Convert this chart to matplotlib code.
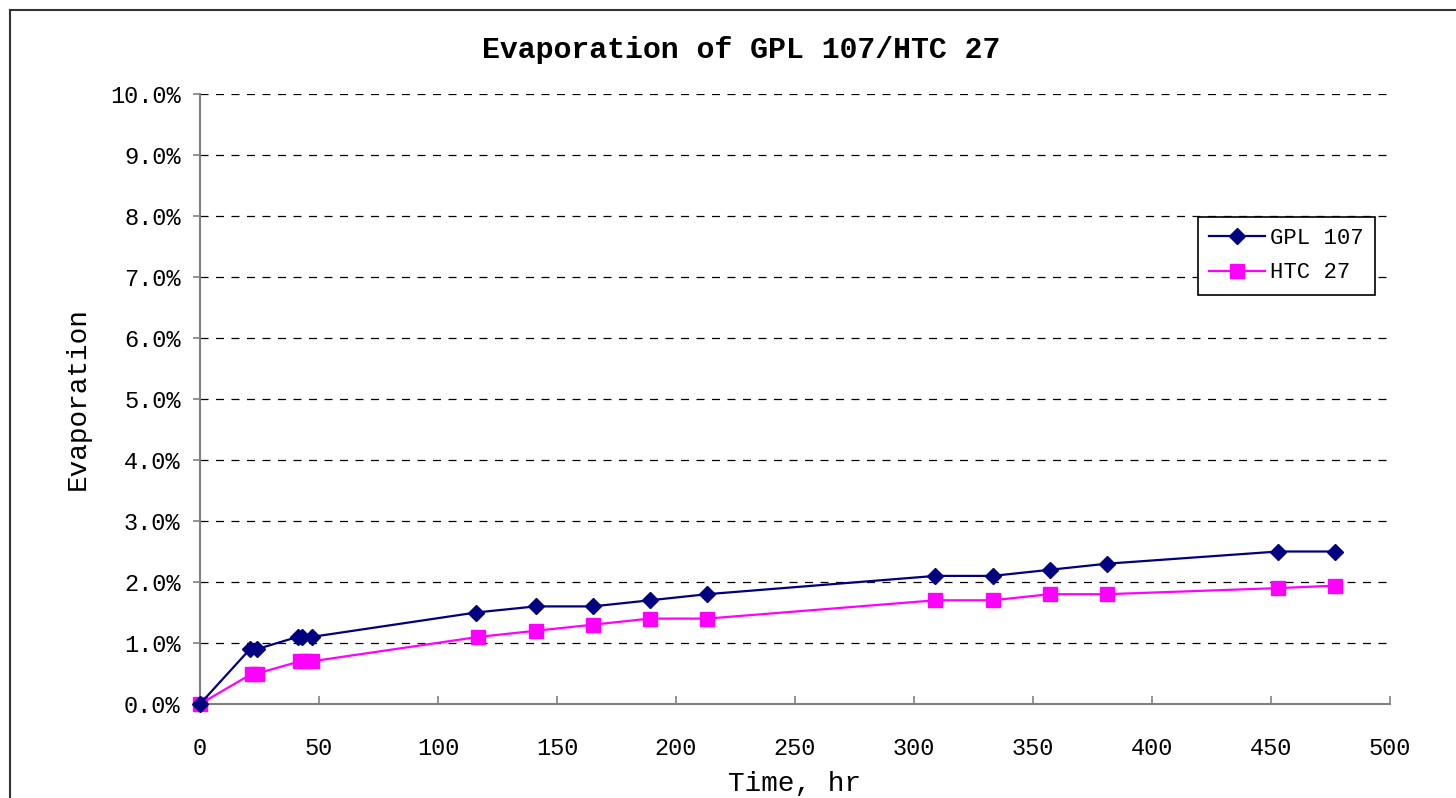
import matplotlib.pyplot as plt
from matplotlib.lines import Line2D
from matplotlib.ticker import FuncFormatter

# hours and evaporation (percent)
hours_gpl = [0, 21, 24, 41, 43, 47, 116, 141, 165, 189, 213, 309, 333, 357, 381, 453, 477]
gpl_107 = [0.0, 0.9, 0.9, 1.1, 1.1, 1.1, 1.5, 1.6, 1.6, 1.7, 1.8, 2.1, 2.1, 2.2, 2.3, 2.5, 2.5]

hours_htc = [0, 22, 24, 42, 44, 47, 117, 141, 165, 189, 213, 309, 333, 357, 381, 453, 477]
htc_27 = [0.0, 0.5, 0.5, 0.7, 0.7, 0.7, 1.1, 1.2, 1.3, 1.4, 1.4, 1.7, 1.7, 1.8, 1.8, 1.9, 1.94]

x_ticks = [0, 50, 100, 150, 200, 250, 300, 350, 400, 450, 500]
y_ticks = [0, 1, 2, 3, 4, 5, 6, 7, 8, 9, 10]

plt.rcParams['font.family'] = ['Liberation Mono', 'DejaVu Sans']

fig = plt.figure(figsize=(14.56, 7.98), dpi=100)
ax = fig.add_axes([200/1456, 1-704/798, 1190/1456, 610/798])

ax.plot(hours_gpl, gpl_107, color="#000080", lw=1.6, marker="D", ms=8,
        label="GPL 107", zorder=4, clip_on=False)
ax.plot(hours_htc, htc_27, color="#FF00FF", lw=1.6, marker="s", ms=10,
        label="HTC 27", zorder=3, clip_on=False)

ax.set_xlim(0, 500)
ax.set_ylim(0, 10)
ax.set_xticks(x_ticks)
ax.set_yticks(y_ticks)
ax.yaxis.set_major_formatter(FuncFormatter(lambda v, p: f"{v:.1f}%"))

ax.grid(axis="y", color="black", linestyle=(0, (6.4, 6)), linewidth=0.9)
ax.set_axisbelow(True)

for s in ["top", "right"]:
    ax.spines[s].set_visible(False)
for s in ["left", "bottom"]:
    ax.spines[s].set_color("#808080")
    ax.spines[s].set_linewidth(1.5)

ax.tick_params(axis="y", direction="out", length=5, width=1.2, color="#808080",
               labelsize=17, pad=9)
ax.tick_params(axis="x", direction="in", length=6, width=1.2, color="#808080",
               labelsize=17, pad=24)

ax.set_xlabel("Time, hr", fontsize=20, labelpad=8)
ax.set_ylabel("Evaporation", fontsize=20, labelpad=14)

fig.text(741/1456, 1-50/798, "Evaporation of GPL 107/HTC 27", fontsize=21.5,
         fontweight="bold", ha="center", va="center")

leg = ax.legend(loc="upper left", bbox_to_anchor=((1198-200)/1190, (704-217)/610),
                fontsize=16, frameon=True, fancybox=False, edgecolor="black",
                framealpha=1, handlelength=2.5, borderpad=0.5, labelspacing=0.6,
                handletextpad=0.25, borderaxespad=0)
leg.get_frame().set_linewidth(1.2)

# outer chart border
fig.add_artist(Line2D([10/1456, 10/1456], [0, 1-10/798], color="#333333", lw=1.5))
fig.add_artist(Line2D([10/1456, 1], [1-10/798, 1-10/798], color="#333333", lw=1.5))

fig.savefig("out.png", dpi=100)
